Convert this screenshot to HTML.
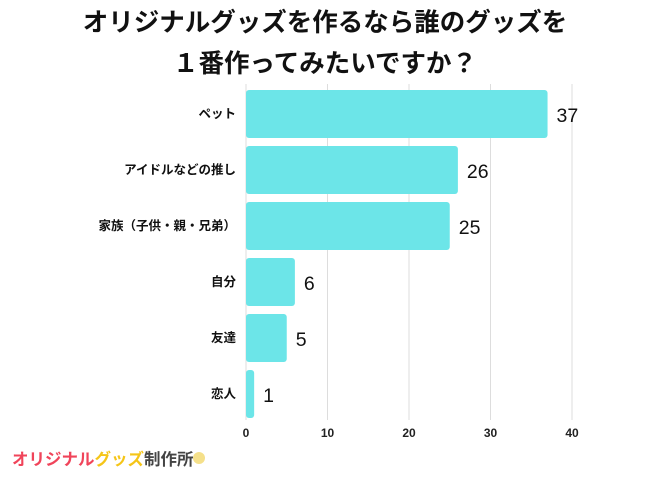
<!DOCTYPE html>
<html><head><meta charset="utf-8"><style>
body{margin:0;background:#fff;width:650px;height:488px;overflow:hidden;font-family:"Liberation Sans","Noto Sans CJK JP",sans-serif}
</style></head><body>
<svg width="650" height="488">
<text x="325" y="31" text-anchor="middle" font-size="25.5" font-weight="bold" fill="#111">オリジナルグッズを作るなら誰のグッズを</text>
<text x="325" y="72" text-anchor="middle" font-size="25.5" font-weight="bold" fill="#111">１番作ってみたいですか？</text>
<g id="grid"></g><g id="bars"></g><g id="labels"></g>
<text x="12" y="465" font-size="16.5" font-weight="bold" fill="#f0445a">オリジナル<tspan fill="#f5c518">グッズ</tspan><tspan fill="#444">制作所</tspan></text>
<circle cx="199" cy="458" r="6" fill="#f5e08a"/>
</svg>
<script>
const categories=["ペット","アイドルなどの推し","家族（子供・親・兄弟）","自分","友達","恋人"];
const values=[37,26,25,6,5,1];
const ticks=[0,10,20,30,40];
const NS="http://www.w3.org/2000/svg";
const x0=246,x1=572,maxV=40,barTop=90,step=56,bh=48;
const xs=v=>x0+(x1-x0)*v/maxV;
function mk(t,a,p){const e=document.createElementNS(NS,t);for(const k in a)e.setAttribute(k,a[k]);p.appendChild(e);return e;}
const g=document.getElementById('grid'),b=document.getElementById('bars'),l=document.getElementById('labels');
ticks.forEach(t=>{
 const ln=mk('line',{x1:xs(t),x2:xs(t),y1:84,y2:420,stroke:'#ddd','stroke-width':1},g);
 
 
 const tx=mk('text',{x:xs(t),y:437,'text-anchor':'middle','font-size':12,'font-weight':'bold',fill:'#222'},g);
 tx.textContent=t;
 
 
});
categories.forEach((c,i)=>{
 const y=barTop+i*step;
 const r=mk('rect',{x:x0,y:y,width:xs(values[i])-x0,height:bh,rx:3,fill:'#6ce5e8'},b);
 
 
 const ct=mk('text',{x:236,y:y+bh/2+4,'text-anchor':'end','font-size':12.5,'font-weight':'bold',fill:'#111'},l);
 ct.textContent=c;
 
 
 const vt=mk('text',{x:xs(values[i])+9,y:y+bh/2+8,'font-size':19.5,fill:'#111'},l);
 vt.textContent=values[i];
 
 
});
</script>
</body></html>
